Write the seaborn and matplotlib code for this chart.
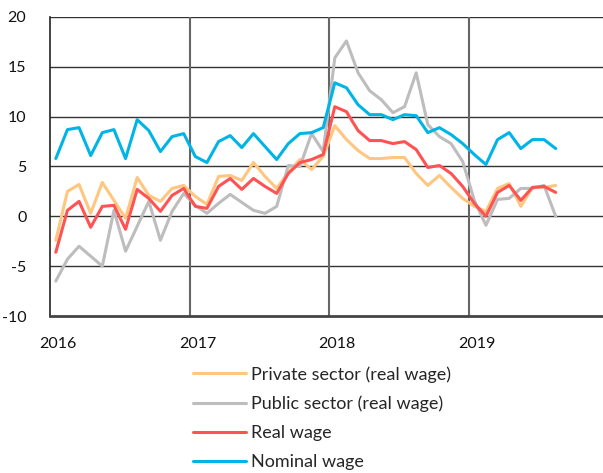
import numpy as np
import pandas as pd
import seaborn as sns
import matplotlib.pyplot as plt
from matplotlib.transforms import ScaledTranslation

# monthly, Jan 2016 .. Aug 2019 (% y/y)
months = pd.period_range('2016-01', '2019-08', freq='M')

private_sector = [-2.4, 2.5, 3.2, 0.3, 3.4, 1.6, -0.2, 3.9, 2.1, 1.5, 2.8, 3.1,
                  2.0, 1.2, 4.0, 4.1, 3.6, 5.4, 4.0, 2.8, 4.4, 5.7, 4.7, 6.0,
                  9.1, 7.7, 6.6, 5.8, 5.8, 5.9, 5.9, 4.3, 3.1, 4.1, 2.9, 1.8,
                  1.0, 0.5, 2.8, 3.3, 1.0, 2.9, 2.9, 3.1]
public_sector = [-6.5, -4.3, -3.0, -4.0, -5.0, 0.6, -3.5, -1.0, 1.5, -2.4, 0.5, 2.3,
                 1.1, 0.3, 1.3, 2.2, 1.4, 0.6, 0.3, 1.0, 5.1, 5.0, 8.3, 6.5,
                 15.9, 17.6, 14.4, 12.6, 11.7, 10.4, 11.0, 14.4, 9.2, 8.0, 7.3, 5.5,
                 1.6, -0.9, 1.7, 1.8, 2.8, 2.8, 3.1, 0.0]
real_wage = [-3.6, 0.6, 1.5, -1.1, 1.0, 1.1, -1.3, 2.7, 1.8, 0.5, 2.1, 2.8,
             1.0, 0.8, 3.0, 3.8, 2.7, 3.8, 3.0, 2.3, 4.3, 5.4, 5.7, 6.2,
             11.0, 10.5, 8.6, 7.6, 7.6, 7.3, 7.5, 6.7, 4.9, 5.1, 4.3, 3.0,
             1.3, 0.0, 2.4, 3.1, 1.6, 2.9, 3.0, 2.4]
nominal_wage = [5.8, 8.7, 8.9, 6.1, 8.4, 8.7, 5.8, 9.7, 8.6, 6.5, 8.0, 8.3,
                6.0, 5.4, 7.5, 8.1, 6.9, 8.3, 7.0, 5.7, 7.3, 8.3, 8.4, 8.9,
                13.4, 12.9, 11.2, 10.2, 10.2, 9.7, 10.2, 10.1, 8.4, 8.9, 8.2, 7.3,
                6.2, 5.2, 7.7, 8.4, 6.8, 7.7, 7.7, 6.8]

series_names = ['Private sector (real wage)', 'Public sector (real wage)',
                'Real wage', 'Nominal wage']
series_colors = ['#FFC680', '#BDBDBD', '#FF5252', '#00B4E6']
years = [2016, 2017, 2018, 2019]
y_ticks = [-10, -5, 0, 5, 10, 15, 20]

# decimal-year x position, plotted mid-month
x_pos = months.year + (months.month - 0.5) / 12

df = pd.concat([
    pd.DataFrame({'x': x_pos, 'value': vals, 'series': name})
    for name, vals in zip(series_names,
                          [private_sector, public_sector, real_wage, nominal_wage])
])

sns.set_theme(style='white')
plt.rcParams['font.family'] = ['Lato', 'DejaVu Sans']
plt.rcParams['axes.unicode_minus'] = False

fig = plt.figure(figsize=(6.03, 4.73), dpi=100)
ax = fig.add_axes([50 / 603, 1 - 316 / 473, 553 / 603, 299 / 473])

sns.lineplot(data=df, x='x', y='value', hue='series', hue_order=series_names,
             palette=series_colors, linewidth=2.2, ax=ax, legend=True)

ax.set_xlim(2016, 2016 + 553 / 139.5)
ax.set_ylim(-10, 20)
ax.set_yticks(y_ticks)
ax.set_xticks(years)
ax.set_xticklabels([str(y) for y in years])
ax.set_xlabel('')
ax.set_ylabel('')

for y in y_ticks[1:]:
    ax.axhline(y, color='#333333', linewidth=1.0, zorder=0)
for yr in years[1:]:
    ax.axvline(yr, color='#666666', linewidth=1.5, zorder=0)

for s in ['top', 'right']:
    ax.spines[s].set_visible(False)
ax.spines['left'].set_color('#222222')
ax.spines['left'].set_linewidth(1.2)
ax.spines['bottom'].set_color('#444444')
ax.spines['bottom'].set_linewidth(2.0)

ax.tick_params(axis='both', length=0, labelsize=11.5, colors='#111111')
ax.tick_params(axis='x', pad=15)
ax.tick_params(axis='y', pad=17)
offset = ScaledTranslation(8 / 100, 0, fig.dpi_scale_trans)
for lbl in ax.get_xticklabels():
    lbl.set_transform(lbl.get_transform() + offset)

handles, labels = ax.get_legend_handles_labels()
ax.get_legend().remove()
leg = fig.legend(handles, labels, loc='upper left',
                 bbox_to_anchor=(186 / 603, 1 - 359 / 473), frameon=False,
                 fontsize=13, handlelength=2.9, handletextpad=0.3,
                 labelspacing=0.72, borderaxespad=0)
for h in leg.get_lines():
    h.set_linewidth(2.2)

fig.savefig('out.png', dpi=100)
